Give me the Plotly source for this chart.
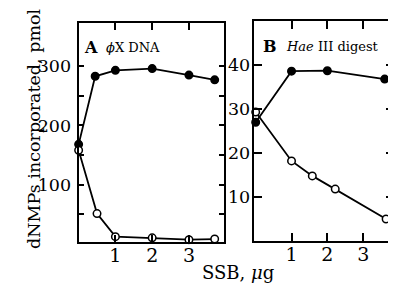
import plotly.graph_objects as go

# Panel A: phiX DNA
a_filled_x = [0, 0.45, 1, 2, 3, 3.7]
a_filled_y = [168, 283, 293, 296, 285, 277]
a_open_x = [0, 0.5, 1, 2, 3, 3.7]
a_open_y = [158, 51, 12, 10, 7, 8]

# Panel B: Hae III digest
b_filled_x = [0, 1, 2, 3.6]
b_filled_y = [27, 38.6, 38.7, 36.8]
b_open_x = [0, 1, 1.58, 2.22, 3.64]
b_open_y = [29.3, 18.2, 14.8, 11.8, 5.0]

a_yticks = [50, 100, 150, 200, 250, 300]
a_yticktext = ["", "100", "", "200", "", "300"]
b_yticks = [10, 20, 30, 40]
x_ticks = [1, 2, 3]

FONT = "DejaVu Serif"
OFF = 8  # default page body margin
W, H = 396 - OFF, 284 - OFF

fig = go.Figure()

def add(x, y, xa, ya, filled):
    fig.add_trace(go.Scatter(
        x=x, y=y, xaxis=xa, yaxis=ya, mode="lines+markers",
        line=dict(color="black", width=1.8),
        marker=dict(symbol="circle", size=7.5,
                    color="black" if filled else "white",
                    line=dict(color="black", width=1.5)),
        showlegend=False, cliponaxis=False))

add(a_filled_x, a_filled_y, "x", "y", True)
add(a_open_x, a_open_y, "x", "y", False)
add(b_filled_x, b_filled_y, "x2", "y2", True)
add(b_open_x, b_open_y, "x2", "y2", False)

def px_x(p):
    return min(1.0, (p - OFF) / W)

def px_y(p):
    return 1 - (p - OFF) / H

common_axis = dict(showline=True, linecolor="black", linewidth=2, mirror="ticks",
                   ticks="inside", tickcolor="black", tickwidth=1.5,
                   showgrid=False, zeroline=False,
                   tickfont=dict(family=FONT, size=17.5, color="black"))

xtickfont = dict(family=FONT, size=19, color="black")

fig.update_layout(
    width=W, height=H,
    margin=dict(l=0, r=0, t=0, b=0),
    paper_bgcolor="white", plot_bgcolor="white",
    xaxis=dict(common_axis, domain=[px_x(79), px_x(225)], range=[0, 3.95],
               tickvals=x_ticks, ticktext=["1", "2", "3"], ticklen=7,
               tickfont=xtickfont, ticklabelstandoff=-5, anchor="y"),
    yaxis=dict(common_axis, domain=[px_y(242), px_y(23)], range=[3, 373],
               tickvals=a_yticks, ticktext=a_yticktext, ticklen=5,
               ticklabelstandoff=2, anchor="x"),
    xaxis2=dict(common_axis, domain=[px_x(255), 1.0], range=[-0.055, 3.86],
                tickvals=x_ticks, ticktext=["1", "2", "3"], ticklen=8,
                tickfont=xtickfont, ticklabelstandoff=-5, anchor="y2"),
    yaxis2=dict(common_axis, domain=[px_y(241), px_y(21)], range=[0, 50],
                tickvals=b_yticks, ticklen=8, ticklabelstandoff=-2, anchor="x2"),
)

fig.add_annotation(text="dNMPs incorporated, pmol", xref="paper", yref="paper",
                   x=px_x(22), y=px_y(129), textangle=-90, showarrow=False,
                   font=dict(family=FONT, size=17.5, color="black"))
fig.add_annotation(text="SSB, <i>μ</i>g", xref="paper", yref="paper",
                   x=px_x(239), y=px_y(272), yanchor="middle", showarrow=False,
                   font=dict(family=FONT, size=18, color="black"))
fig.add_annotation(text="<b>A</b>", xref="paper", yref="paper", xanchor="left",
                   yanchor="middle", x=px_x(82), y=px_y(48), showarrow=False,
                   font=dict(family=FONT, size=16, color="black"))
fig.add_annotation(text="<i>ϕ</i>X DNA", xref="paper", yref="paper", xanchor="left",
                   yanchor="middle", x=px_x(104), y=px_y(48), showarrow=False,
                   font=dict(family=FONT, size=13, color="black"))
fig.add_annotation(text="<b>B</b>", xref="paper", yref="paper", xanchor="left",
                   yanchor="middle", x=px_x(262), y=px_y(47), showarrow=False,
                   font=dict(family=FONT, size=16, color="black"))
fig.add_annotation(text="<i>Hae</i> III digest", xref="paper", yref="paper", xanchor="left",
                   yanchor="middle", x=px_x(285), y=px_y(47), showarrow=False,
                   font=dict(family=FONT, size=13, color="black"))

fig.write_html("out.html")
